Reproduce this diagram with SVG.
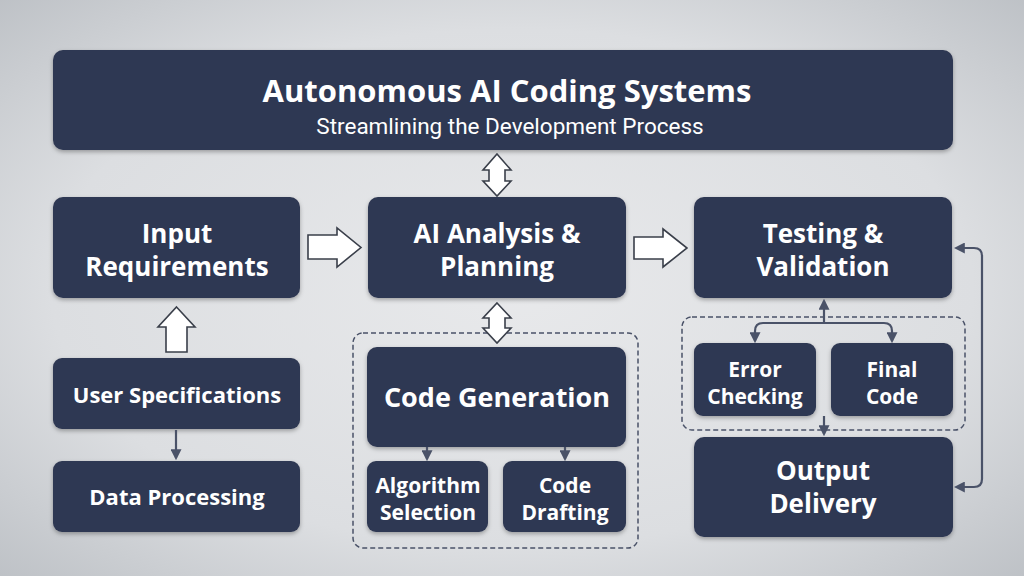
<svg xmlns="http://www.w3.org/2000/svg" width="1024" height="576" viewBox="0 0 1024 576">
<defs>
<radialGradient id="bg" cx="50%" cy="50%" r="75%">
<stop offset="0" stop-color="#e8e9eb"/>
<stop offset="0.6" stop-color="#dcdee1"/>
<stop offset="1" stop-color="#b9bdc2"/>
</radialGradient>
<filter id="sh" x="-10%" y="-10%" width="120%" height="130%">
<feDropShadow dx="0" dy="2" stdDeviation="2" flood-color="#000" flood-opacity="0.3"/>
</filter>
<marker id="ah" viewBox="0 0 10 10" refX="8" refY="5" markerWidth="5" markerHeight="5" orient="auto-start-reverse" markerUnits="strokeWidth">
<path d="M0,0 L10,5 L0,10 Z" fill="#4a5268"/>
</marker>
</defs>
<style>
.box{fill:#2f3852;filter:url(#sh)}
.t{font-family:"Open Sans","Noto Sans",sans-serif;font-weight:700;fill:#ffffff;text-anchor:middle}
.sub{font-family:Roboto,"Open Sans",sans-serif;font-weight:400;fill:#ffffff;text-anchor:middle}
.big{font-size:26px}
.mid{font-size:22px}
.two{font-size:21px}
.hollow{fill:#ffffff;stroke:#3a3f4a;stroke-width:1.6;stroke-linejoin:miter}
.con{fill:none;stroke:#4a5268;stroke-width:2.2}
.dash{fill:none;stroke:#4a5268;stroke-width:1.5;stroke-dasharray:5 3}
</style>
<rect width="1024" height="576" fill="url(#bg)"/>

<g id="title">
<rect class="box" x="53" y="50" width="900" height="100" rx="10"/>
<text class="t" x="507" y="102" font-size="31">Autonomous AI Coding Systems</text>
<text class="sub" x="510" y="134" font-size="22.5">Streamlining the Development Process</text>
</g>

<g id="input">
<rect class="box" x="53" y="197" width="247" height="101" rx="10"/>
<text class="t big" x="177" y="243">Input</text>
<text class="t big" x="177" y="276">Requirements</text>
</g>

<g id="analysis">
<rect class="box" x="368" y="197" width="258" height="101" rx="10"/>
<text class="t big" x="497" y="243">AI Analysis &amp;</text>
<text class="t big" x="497" y="276">Planning</text>
</g>

<g id="testing">
<rect class="box" x="694" y="197" width="258" height="101" rx="10"/>
<text class="t big" x="823" y="243">Testing &amp;</text>
<text class="t big" x="823" y="276">Validation</text>
</g>

<g id="userspec">
<rect class="box" x="53" y="358" width="247" height="71" rx="9"/>
<text class="t mid" x="177" y="403">User Specifications</text>
</g>

<g id="dataproc">
<rect class="box" x="53" y="461" width="247" height="71" rx="9"/>
<text class="t mid" x="177" y="505">Data Processing</text>
</g>

<g id="codegen-group">
<rect class="dash" x="353" y="333" width="285" height="215" rx="10"/>
</g>

<g id="codegen">
<rect class="box" x="367" y="347" width="259" height="100" rx="10"/>
<text class="t" x="497" y="407" font-size="27">Code Generation</text>
</g>

<g id="algo">
<rect class="box" x="367" y="461" width="121" height="71" rx="9"/>
<text class="t two" x="428" y="493">Algorithm</text>
<text class="t two" x="428" y="520">Selection</text>
</g>

<g id="drafting">
<rect class="box" x="503" y="461" width="123" height="71" rx="9"/>
<text class="t two" x="565" y="493">Code</text>
<text class="t two" x="565" y="520">Drafting</text>
</g>

<g id="testing-group">
<rect class="dash" x="682" y="317" width="283" height="113" rx="10"/>
</g>

<g id="error">
<rect class="box" x="694" y="343" width="122" height="73" rx="9"/>
<text class="t two" x="755" y="377">Error</text>
<text class="t two" x="755" y="404">Checking</text>
</g>

<g id="final">
<rect class="box" x="831" y="343" width="122" height="73" rx="9"/>
<text class="t two" x="892" y="377">Final</text>
<text class="t two" x="892" y="404">Code</text>
</g>

<g id="output">
<rect class="box" x="694" y="437" width="259" height="100" rx="10"/>
<text class="t big" x="823" y="480">Output</text>
<text class="t big" x="823" y="513">Delivery</text>
</g>

<g id="connectors">
<path class="hollow" d="M308,235 H337 V228 L361,247.5 L337,267 V259 H308 Z"/>
<path class="hollow" d="M634,237 H663 V229 L687,248 L663,267 V259 H634 Z"/>
<path class="hollow" d="M176.5,307 L195,327 H187 V352 H166 V327 H158 Z"/>
<path class="hollow" d="M497,154 L511,170 H505 V181 H511 L497,196 L483,181 H489 V170 H483 Z"/>
<path class="hollow" d="M497,303 L511,318 H505 V328 H511 L497,343 L483,328 H489 V318 H483 Z"/>
<path class="con" d="M176,430 V458" marker-end="url(#ah)"/>
<path class="con" d="M427,447 V459" marker-end="url(#ah)"/>
<path class="con" d="M565,447 V459" marker-end="url(#ah)"/>
<path class="con" d="M824,323 V301" marker-end="url(#ah)"/>
<path class="con" d="M755,341 V331 Q755,323 763,323 H884 Q892,323 892,331 V341" marker-start="url(#ah)" marker-end="url(#ah)"/>
<path class="con" d="M824,416 V434" marker-end="url(#ah)"/>
<path class="con" d="M956,248 H974 Q982,248 982,256 V479 Q982,487 974,487 H956" marker-start="url(#ah)" marker-end="url(#ah)"/>
</g>
</svg>
